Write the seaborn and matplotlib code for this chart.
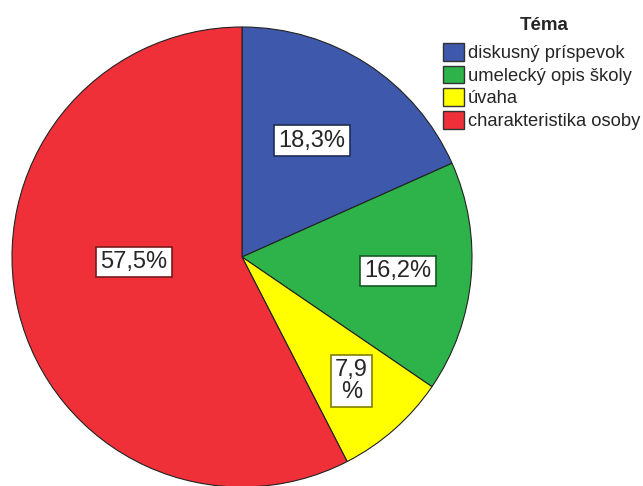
import numpy as np
import seaborn as sns
import matplotlib.pyplot as plt
from matplotlib.patches import Patch

sns.set_style("white")
plt.rcParams['font.family'] = ['Liberation Sans', 'DejaVu Sans']

# data
categories = ["diskusný príspevok", "umelecký opis školy", "úvaha", "charakteristika osoby"]
percents = [18.3, 16.2, 7.9, 57.5]
pct_labels = ["18,3%", "16,2%", "7,9\n%", "57,5%"]

colors = ["#3E58AC", "#2DB34A", "#FFFF00", "#EF3039"]
box_edges = ["#1F2C56", "#165A25", "#807F00", "#781A1D"]
label_dist = [0.59, 0.68, 0.72, 0.47]
label_turn = [2, 0, 0, -11]   # degrees, nudges label off the wedge middle

fig = plt.figure(figsize=(6.43, 4.86), dpi=100)
W, H = 643, 486
cx, cy, r = 242, 257, 230
ax = fig.add_axes([(cx - r) / W, 1 - (cy + r) / H, 2 * r / W, 2 * r / H])

wedges, _ = ax.pie(percents, colors=colors, startangle=90, counterclock=False,
                   wedgeprops=dict(edgecolor="#222222", linewidth=0.8))
ax.set_xlim(-1, 1)
ax.set_ylim(-1, 1)
ax.set_aspect("equal")
ax.axis("off")

for w, lab, d, t, ec in zip(wedges, pct_labels, label_dist, label_turn, box_edges):
    ang = np.deg2rad((w.theta1 + w.theta2) / 2 + t)
    ax.text(d * np.cos(ang), d * np.sin(ang), lab, ha="center", va="center",
            fontsize=17, linespacing=1.0,
            bbox=dict(boxstyle="square,pad=0.18", facecolor="white", edgecolor=ec, linewidth=1.2))

handles = [Patch(facecolor=c, edgecolor="#333333", linewidth=1) for c in colors]
leg = fig.legend(handles, categories, loc="upper left",
                 bbox_to_anchor=(443 / W, 1 - 43 / H), frameon=False,
                 fontsize=13.2, handlelength=1.15, handleheight=1.1,
                 handletextpad=0.22, labelspacing=0.2, borderpad=0, borderaxespad=0)
fig.text(544 / W, 1 - 25 / H, "Téma", ha="center", va="center",
         fontsize=13.5, fontweight="bold")

plt.savefig("out.png", dpi=100)
